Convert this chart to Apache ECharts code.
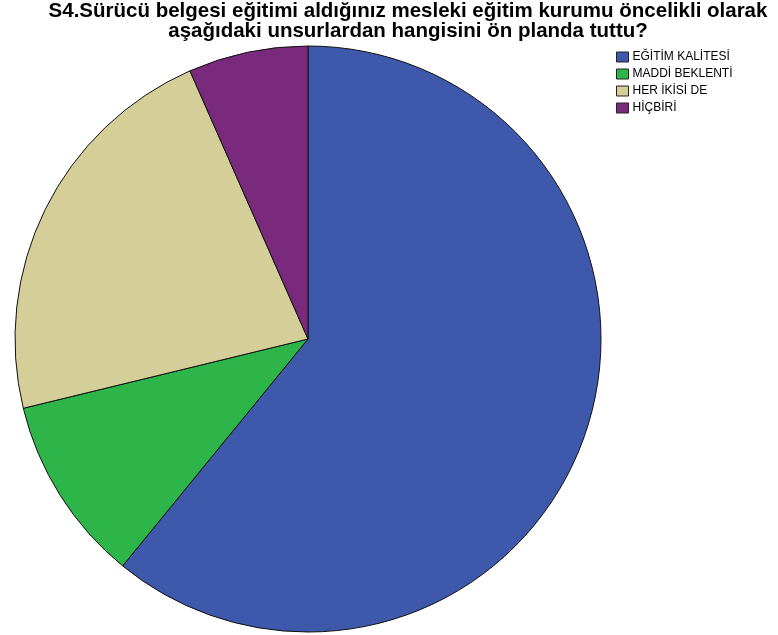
<!DOCTYPE html>
<html>
<head>
<meta charset="utf-8">
<script src="https://cdn.jsdelivr.net/npm/echarts@6/dist/echarts.min.js"></script>
<style>
  html, body { margin: 0; padding: 0; background: #ffffff; }
  #chart { width: 778px; height: 635px; }
</style>
</head>
<body>
<div id="chart"></div>
<script>
// Survey answers (share of respondents, %)
const categories = ['EĞİTİM KALİTESİ', 'MADDİ BEKLENTİ', 'HER İKİSİ DE', 'HİÇBİRİ'];
const shares = [60.9, 10.3, 22.2, 6.6];
const sliceColors = ['#3e58ab', '#2db549', '#d4ce99', '#7a2a7c'];

const titleText = 'S4.Sürücü belgesi eğitimi aldığınız mesleki eğitim kurumu öncelikli olarak\naşağıdaki unsurlardan hangisini ön planda tuttu?';

const chart = echarts.init(document.getElementById('chart'), null, { renderer: 'canvas' });

chart.setOption({
  backgroundColor: '#ffffff',
  animation: false,
  color: sliceColors,
  title: {
    text: titleText,
    left: 408,
    top: 2,
    padding: 0,
    textAlign: 'center',
    textStyle: {
      fontFamily: '"Liberation Sans", Arial, sans-serif',
      fontWeight: 'bold',
      fontSize: 20.5,
      lineHeight: 19.5,
      color: '#000000'
    }
  },
  legend: {
    orient: 'vertical',
    left: 611,
    top: 46,
    itemWidth: 12,
    itemHeight: 10,
    itemGap: 5,
    icon: 'rect',
    selectedMode: false,
    data: categories,
    itemStyle: { borderColor: '#222222', borderWidth: 1 },
    textStyle: {
      fontFamily: '"Liberation Sans", Arial, sans-serif',
      fontSize: 12,
      color: '#000000',
      padding: [0, 0, 0, -1]
    }
  },
  series: [{
    type: 'pie',
    center: [308, 339],
    radius: 293,
    startAngle: 90,
    clockwise: true,
    label: { show: false },
    labelLine: { show: false },
    emphasis: { disabled: true },
    itemStyle: { borderColor: '#111111', borderWidth: 1 },
    data: categories.map((name, i) => ({ name, value: shares[i] }))
  }]
});
</script>
</body>
</html>
